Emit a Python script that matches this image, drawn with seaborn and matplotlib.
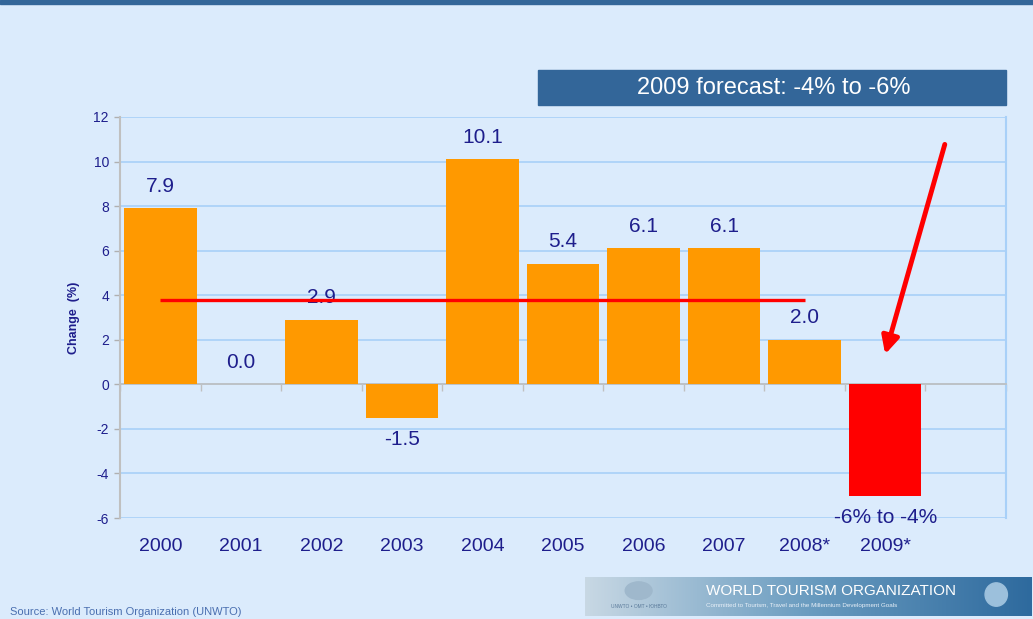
import numpy as np
import pandas as pd
import matplotlib
matplotlib.use('Agg')
import matplotlib.pyplot as plt
import seaborn as sns

# data
years = ['2000', '2001', '2002', '2003', '2004', '2005', '2006', '2007', '2008*', '2009*']
changes = [7.9, 0.0, 2.9, -1.5, 10.1, 5.4, 6.1, 6.1, 2.0, -5.0]
bar_labels = ['7.9', '0.0', '2.9', '-1.5', '10.1', '5.4', '6.1', '6.1', '2.0', '-6% to -4%']
bar_colors = ['#FF9900'] * 9 + ['#FF0000']
average = 3.8  # 2000-2008 average line
yticks = list(range(-6, 13, 2))

bg = '#DBEBFC'
navy = '#1E1E8C'
narrow = ['Liberation Sans Narrow', 'Liberation Sans', 'DejaVu Sans']

sns.set_theme(style='white')
plt.rcParams['font.family'] = ['Liberation Sans', 'DejaVu Sans']
plt.rcParams['axes.unicode_minus'] = False

df = pd.DataFrame({'year': years, 'change': changes})

fig = plt.figure(figsize=(10.33, 6.19), dpi=100, facecolor=bg)
ax = fig.add_axes([120 / 1033, 1 - 518 / 619, 886 / 1033, 401 / 619])
ax.set_facecolor(bg)

sns.barplot(data=df, x='year', y='change', hue='year', palette=bar_colors,
            legend=False, width=0.9, saturation=1, linewidth=0, edgecolor='none',
            ax=ax, zorder=3)

# one empty slot after 2009
ax.set_xlim(-0.5, len(years) + 0.5)
ax.set_ylim(-6, 12)
ax.set_yticks(yticks)
ax.yaxis.grid(True, color='#A8D0F8', lw=1.2, zorder=0)
ax.tick_params(axis='y', colors='#B0B0B0', labelcolor=navy, labelsize=10,
               length=4, width=1, direction='out', left=True, pad=4)

# x axis line crosses at zero, labels at bottom
ax.spines['bottom'].set_position(('data', 0))
ax.spines['bottom'].set_color('#C0C0C0')
ax.spines['left'].set_color('#C0C0C0')
ax.spines['left'].set_linewidth(1.5)
ax.spines['top'].set_visible(False)
ax.spines['right'].set_color('#A8D0F8')
ax.spines['right'].set_linewidth(1.5)
ax.set_xticks(np.arange(len(years) + 2) - 0.5, minor=True)
ax.set_xticks([])
ax.tick_params(axis='x', which='minor', colors='#C0C0C0', length=5,
               width=1, direction='out', bottom=True)
ax.set_xlabel('')
trans = ax.get_xaxis_transform()
for i, yr in enumerate(years):
    ax.text(i, -0.07, yr, transform=trans, ha='center', va='center',
            fontsize=14, color=navy, family=narrow)

ax.set_ylabel('Change  (%)', fontsize=9, fontweight='bold', color=navy, labelpad=10)

# value labels
for i, (v, lab) in enumerate(zip(changes, bar_labels)):
    off = 16 if v >= 0 else -16
    ax.annotate(lab, (i, v), xytext=(0, off), textcoords='offset points',
                ha='center', va='center', fontsize=15, color=navy,
                family=narrow, zorder=4)

# average line 2000-2008
ax.hlines(average, 0, len(years) - 2, color='#FF0000', lw=2.4, zorder=5)

# arrow pointing at the 2009 forecast
ax.annotate('', xy=(len(years) - 1, 1.35), xytext=(len(years) - 0.26, 10.77),
            arrowprops=dict(arrowstyle='-|>', color='#FF0000', lw=3.5,
                            mutation_scale=26, shrinkA=0, shrinkB=0),
            zorder=6, annotation_clip=False)

# top band
fig.patches.append(plt.Rectangle((0, 1 - 4 / 619), 1, 4 / 619, transform=fig.transFigure,
                                 color='#336699', zorder=0))

# forecast box
fig.patches.append(plt.Rectangle((538 / 1033, 1 - 105 / 619), 468 / 1033, 35 / 619,
                                 transform=fig.transFigure, color='#336699', zorder=1))
fig.text(774 / 1033, 1 - 88 / 619, '2009 forecast: -4% to -6%', ha='center', va='center',
         color='white', fontsize=17, family=narrow)

# source note
fig.text(10 / 1033, 1 - 612 / 619, 'Source: World Tourism Organization (UNWTO)',
         ha='left', va='center', fontsize=8, color='#4A6FB0', family=narrow)

# logo strip
lax = fig.add_axes([585 / 1033, 1 - 616 / 619, 447 / 1033, 39 / 619])
grad = np.linspace(0, 1, 256).reshape(1, -1)
cmap = matplotlib.colors.LinearSegmentedColormap.from_list('logo', ['#C8D8E4', '#6A9CC0', '#2E6A9E'])
lax.imshow(grad, aspect='auto', cmap=cmap, extent=[0, 1, 0, 1])
lax.set_axis_off()
lax.text(0.27, 0.65, 'WORLD TOURISM ORGANIZATION', color='white', fontsize=11,
         ha='left', va='center', family=['Liberation Sans', 'DejaVu Sans'])
lax.text(0.27, 0.28, 'Committed to Tourism, Travel and the Millennium Development Goals',
         color='#E8F0F8', fontsize=4.5, ha='left', va='center')
lax.text(0.12, 0.25, 'UNWTO • OMT • ЮНВТО', color='#5A7A9A', fontsize=3.5,
         ha='center', va='center')
lax.add_patch(matplotlib.patches.Ellipse((0.12, 0.65), 0.06, 0.45, color='#9FB8CC'))
lax.add_patch(matplotlib.patches.Ellipse((0.92, 0.55), 0.05, 0.6, color='#9CC0DC'))

fig.savefig('out.png', dpi=100, facecolor=bg)
